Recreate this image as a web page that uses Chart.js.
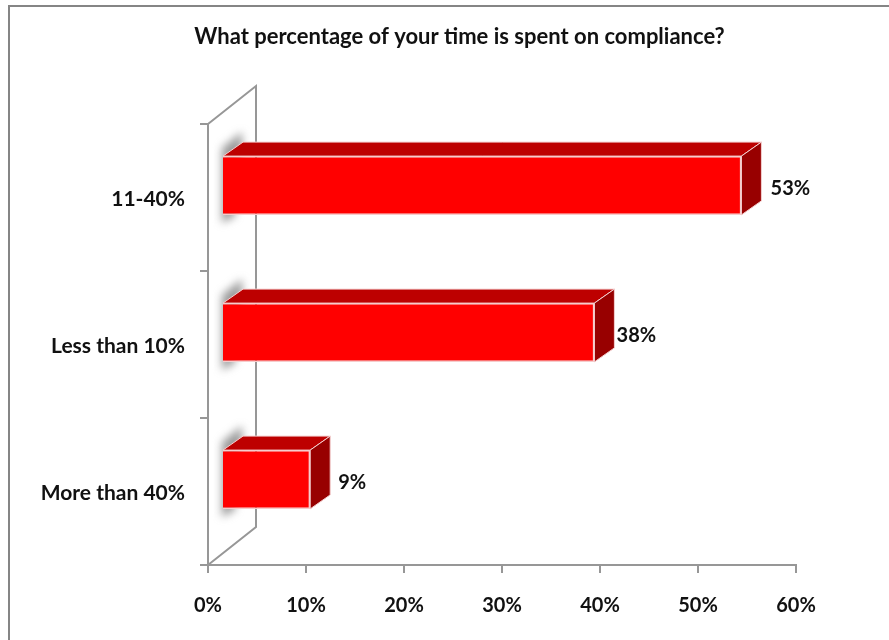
<!DOCTYPE html>
<html><head><meta charset="utf-8">
<style>html,body{margin:0;padding:0;background:#fff}canvas{display:block}</style>
<script src="https://cdn.jsdelivr.net/npm/chart.js@4"></script>
</head><body>
<div style="width:889px;height:640px;position:relative"><canvas id="c" width="889" height="640"></canvas></div>
<script>
const categories = ['11-40%', 'Less than 10%', 'More than 40%'];
const shares = [53, 38, 9];
const xTicks = [0, 10, 20, 30, 40, 50, 60];
const chartTitle = 'What percentage of your time is spent on compliance?';

const FONT = 'Lato';
const INK = '#111';
const AXIS = '#979797';
const SHIFT = {x: 14, y: -12};
const DEPTH = {x: 20, y: -14};
const LABEL_NUDGE = [7, 0, 0];

const threeD = {
  id: 'threeD',
  beforeDraw(chart) {
    const c = chart.ctx;
    c.save();
    c.strokeStyle = '#858585'; c.lineWidth = 2;
    c.beginPath(); c.moveTo(889, 6); c.lineTo(9, 6); c.lineTo(9, 640); c.stroke();
    c.font = 'bold 22px ' + FONT; c.fillStyle = INK;
    c.textAlign = 'center'; c.textBaseline = 'middle';
    c.fillText(chartTitle, 459.5, 37);
    c.restore();
  },
  beforeDatasetsDraw(chart) {
    const c = chart.ctx, a = chart.chartArea;
    const wallX = 48, wallY = -38;
    c.save();
    c.strokeStyle = AXIS; c.lineWidth = 2;
    c.beginPath();
    c.moveTo(a.left, a.top); c.lineTo(a.left + wallX, a.top + wallY);
    c.lineTo(a.left + wallX, a.bottom + wallY);
    c.lineTo(a.left, a.bottom);
    c.stroke();
    const m = chart.getDatasetMeta(0);
    m.data.forEach(el => {
      const top = el.y - el.height / 2 + SHIFT.y, bot = el.y + el.height / 2 + SHIFT.y;
      const l = el.base + SHIFT.x, r = el.x + SHIFT.x;
      c.save();
      c.filter = 'blur(4px)';
      c.fillStyle = 'rgba(120,120,120,.75)';
      c.beginPath();
      c.moveTo(l - 1, top - 8); c.lineTo(l + DEPTH.x - 1, top + DEPTH.y - 10);
      c.lineTo(l + DEPTH.x - 1, top + DEPTH.y + 6); c.lineTo(l + 12, bot + 1); c.lineTo(l - 1, bot + 8);
      c.closePath(); c.fill();
      c.restore();
      c.fillStyle = '#bd0000'; c.strokeStyle = '#f4d0d0'; c.lineWidth = 1;
      c.beginPath();
      c.moveTo(l, top); c.lineTo(l + DEPTH.x, top + DEPTH.y);
      c.lineTo(r + DEPTH.x, top + DEPTH.y); c.lineTo(r, top); c.closePath();
      c.fill(); c.stroke();
      c.fillStyle = '#980000';
      c.beginPath();
      c.moveTo(r, top); c.lineTo(r + DEPTH.x, top + DEPTH.y);
      c.lineTo(r + DEPTH.x, bot + DEPTH.y); c.lineTo(r, bot); c.closePath();
      c.fill(); c.stroke();
    });
    c.restore();
    c.save();
    c.translate(SHIFT.x, SHIFT.y);
  },
  afterDatasetsDraw(chart) {
    const c = chart.ctx;
    c.restore();
    c.save();
    c.font = 'bold 20px ' + FONT; c.fillStyle = INK;
    c.textAlign = 'center'; c.textBaseline = 'middle';
    chart.getDatasetMeta(0).data.forEach((el, i) => {
      c.fillText(shares[i] + '%', el.x + SHIFT.x + 42 + LABEL_NUDGE[i], el.y - 9);
    });
    c.restore();
  }
};

new Chart(document.getElementById('c'), {
  type: 'bar',
  plugins: [threeD],
  data: {
    labels: categories,
    datasets: [{
      data: shares,
      backgroundColor: '#ff0000',
      borderColor: '#f6cccc',
      borderWidth: 1.5,
      barPercentage: 0.4,
      categoryPercentage: 1
    }]
  },
  options: {
    indexAxis: 'y',
    responsive: false,
    animation: false,
    layout: {padding: {left: 10, right: 93, top: 124, bottom: 0}},
    plugins: {
      legend: {display: false},
      tooltip: {enabled: false},
      title: {display: false}
    },
    scales: {
      x: {
        min: 0, max: 60, afterFit(s) { s.height = 75; },
        afterBuildTicks(s) { s.ticks = xTicks.map(v => ({value: v})); },
        border: {color: AXIS, width: 2},
        grid: {drawOnChartArea: false, color: AXIS, lineWidth: 2, tickLength: 8},
        ticks: {color: INK, padding: 21, maxRotation: 0, font: {family: FONT, size: 20, weight: 'bold'},
          callback: v => v + '%'}
      },
      y: {
        afterFit(s) { s.width = 198; },
        border: {color: AXIS, width: 2},
        grid: {drawOnChartArea: false, color: AXIS, lineWidth: 2, tickLength: 8},
        ticks: {color: INK, padding: 15, labelOffset: 2, font: {family: FONT, size: 21, weight: 'bold'}}
      }
    }
  }
});
</script>
</body></html>
